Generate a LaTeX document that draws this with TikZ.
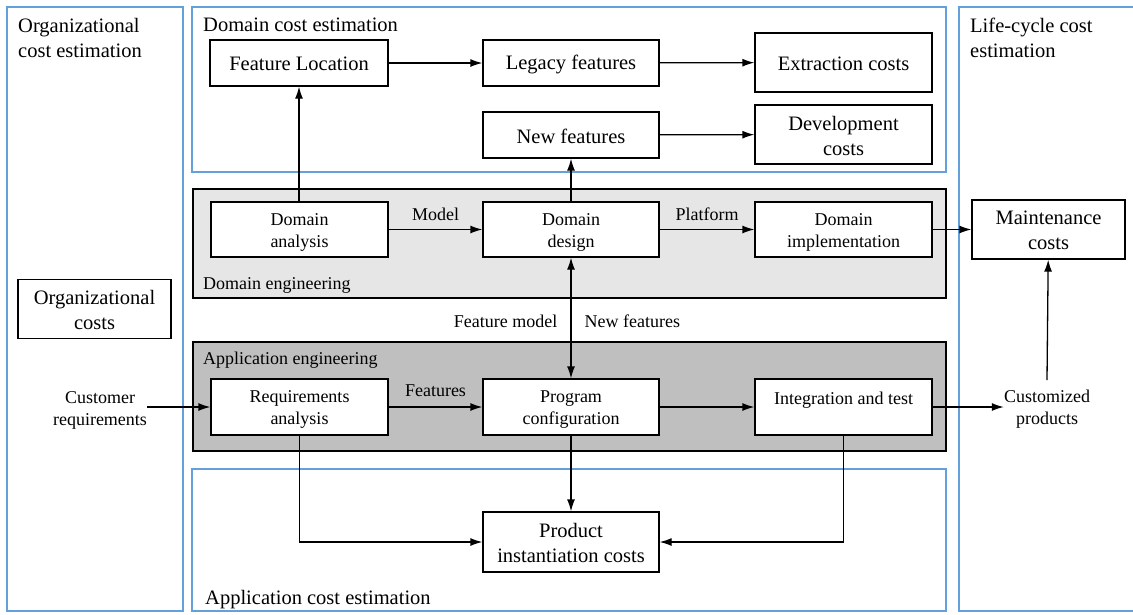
\documentclass[tikz,border=0pt]{standalone}
\usepackage{fontspec}
\setmainfont{Liberation Serif}
\usetikzlibrary{arrows.meta}
\definecolor{panelblue}{RGB}{100,160,220}
\definecolor{lightgray}{RGB}{230,230,230}
\definecolor{midgray}{RGB}{191,191,191}
\begin{document}
\begin{tikzpicture}[x=1pt,y=-1pt,
  box/.style={draw, fill=white, line width=1.3pt, inner sep=0pt},
  bigtxt/.style={inner sep=0pt, align=center, font=\fontsize{20.5}{25}\selectfont, yshift=-1.3pt},
  smalltxt/.style={inner sep=0pt, align=center, font=\fontsize{18}{22}\selectfont, yshift=-2.5pt},
  plainbig/.style={inner sep=0pt, align=left, font=\fontsize{20.5}{25}\selectfont},
  plainsmall/.style={inner sep=0pt, align=center, font=\fontsize{18}{22}\selectfont},
  panel/.style={draw=panelblue, line width=1.3pt},
  band/.style={draw, line width=1.3pt},
  arr/.style={line width=1.3pt, -{Latex[length=12pt,width=8pt]}},
  darr/.style={line width=1.3pt, {Latex[length=12pt,width=8pt]}-{Latex[length=12pt,width=8pt]}}]
\useasboundingbox (0,0) rectangle (1133,614);
% panels
\draw[panel] (7,7) rectangle (183,611);
\draw[panel] (192,7) rectangle (946,172);
\draw[panel] (959,7) rectangle (1140,611);
\draw[panel] (192,469) rectangle (946,611);
% bands
\draw[band, fill=lightgray] (193,189) rectangle (946,298);
\draw[band, fill=midgray] (193,342) rectangle (946,451);
% panel titles
\node[plainbig, anchor=base west] (t1) at (18,57) {Organizational\\cost estimation};
\node[plainbig, anchor=base west] (t2) at (203,31) {Domain cost estimation};
\node[plainbig, anchor=base west] (t3) at (970,57) {Life-cycle cost\\estimation};
\node[plainbig, anchor=base west] (t4) at (205,604) {Application cost estimation};
\node[plainsmall, anchor=base west] (t5) at (203,289) {Domain engineering};
\node[plainsmall, anchor=base west] (t6) at (203,364) {Application engineering};
% boxes
\node[box, minimum width=178pt, minimum height=46pt] (fl) at (299,63) {};
\node[box, minimum width=176pt, minimum height=46pt] (lf) at (571,63) {};
\node[box, minimum width=177pt, minimum height=59pt] (ec) at (843.5,62.5) {};
\node[box, minimum width=176pt, minimum height=46pt] (nf) at (571,135) {};
\node[box, minimum width=177pt, minimum height=59pt] (dc) at (843.5,134.5) {};
\node[box, minimum width=177pt, minimum height=55pt] (da) at (299.5,229.5) {};
\node[box, minimum width=176pt, minimum height=55pt] (dd) at (571,229.5) {};
\node[box, minimum width=177pt, minimum height=55pt] (di) at (843.5,229.5) {};
\node[box, minimum width=153pt, minimum height=59pt] (mc) at (1048.5,229.5) {};
\node[box, minimum width=153pt, minimum height=59pt] (oc) at (94.5,309) {};
\node[box, minimum width=177pt, minimum height=56pt] (ra) at (299.5,407) {};
\node[box, minimum width=176pt, minimum height=56pt] (pc) at (571,407) {};
\node[box, minimum width=177pt, minimum height=56pt] (it) at (843.5,407) {};
\node[box, minimum width=176pt, minimum height=60pt] (pi) at (571,542) {};
% box texts
\node[bigtxt] (fl-t) at (fl) {Feature Location};
\node[bigtxt] (lf-t) at (lf) {Legacy features};
\node[bigtxt] (ec-t) at (ec) {Extraction costs};
\node[bigtxt] (nf-t) at (nf) {New features};
\node[bigtxt] (dc-t) at (dc) {Development\\costs};
\node[smalltxt] (da-t) at (da) {Domain\\analysis};
\node[smalltxt] (dd-t) at (dd) {Domain\\design};
\node[smalltxt] (di-t) at (di) {Domain\\implementation};
\node[bigtxt] (mc-t) at (mc) {Maintenance\\costs};
\node[bigtxt] (oc-t) at (oc) {Organizational\\costs};
\node[smalltxt] (ra-t) at (ra) {Requirements\\analysis};
\node[smalltxt] (pc-t) at (pc) {Program\\configuration};
\node[smalltxt, anchor=base, yshift=0pt] (it-t) at (843.5,402) {Integration and test};
\node[bigtxt] (pi-t) at (pi) {Product\\instantiation costs};
\node[plainsmall] (cr) at (100,410) {Customer\\requirements};
\node[plainsmall] (cp) at (1047,409) {Customized\\products};
% connectors
\draw[arr] (fl) -- (lf);
\draw[arr] (lf) -- (ec);
\draw[arr] (nf) -- (dc);
\draw[arr] (da.north -| fl) -- (fl.south);
\draw[arr] (dd) -- (nf);
\draw[arr] (da) -- node[plainsmall, above=8pt] (lm) {Model} (dd);
\draw[arr] (dd) -- node[plainsmall, above=8pt] (lp) {Platform} (di);
\draw[arr] (di) -- (mc);
\draw[darr] (dd) -- node[plainsmall, pos=0.53, left=13pt] (lfm) {Feature model} node[plainsmall, pos=0.53, right=13pt] (lnf) {New features} (pc);
\draw[arr] (cr.east |- ra) -- (ra);
\draw[arr] (ra) -- node[plainsmall, above=10pt] (lf2) {Features} (pc);
\draw[arr] (pc) -- (it);
\draw[arr] (it) -- (cp.west |- it);
\draw[arr] (cp.north |- 0,380) -- (mc);
\draw[arr] (pc) -- (pi);
\draw[arr] (ra.south) |- (pi.west);
\draw[arr] (it.south) |- (pi.east);
\end{tikzpicture}
\end{document}
